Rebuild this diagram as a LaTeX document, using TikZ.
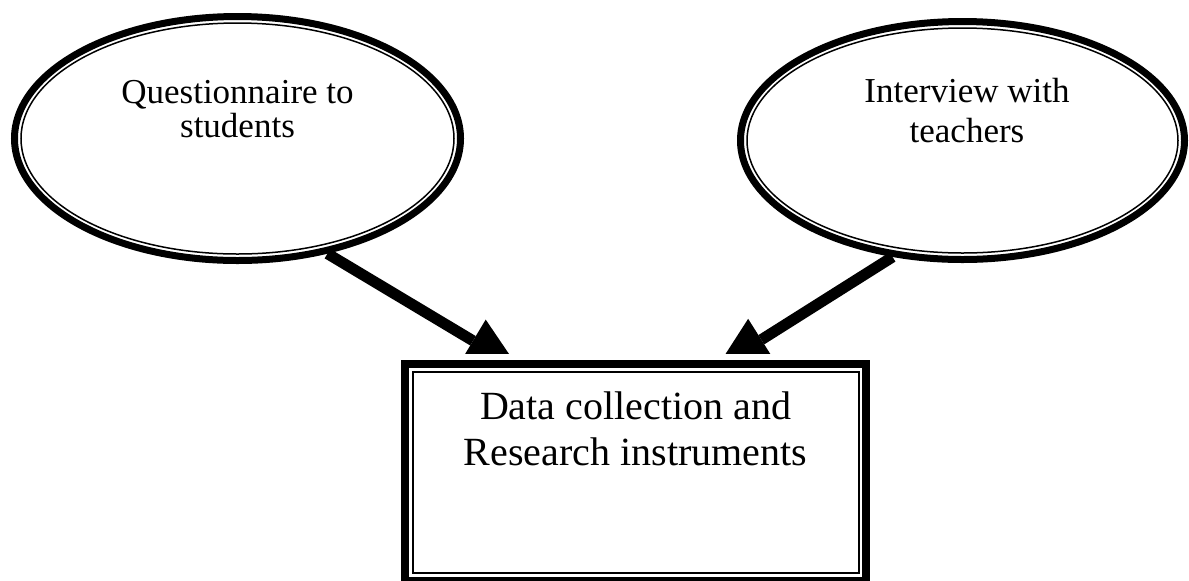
\documentclass[tikz,border=0pt]{standalone}
\usepackage{fontspec}
\setmainfont{Liberation Serif}
\usetikzlibrary{shapes.geometric, arrows.meta}
\tikzset{
    oval-outer/.style = {draw, ellipse, line width=3.5pt, inner sep=0pt},
    oval-inner/.style = {draw, ellipse, line width=0.75pt, inner sep=0pt},
    oval-text/.style = {align=center, inner sep=0pt, anchor=north},
    frame-outer/.style = {draw, rectangle, line width=4pt, inner sep=0pt, minimum width=230.5pt, minimum height=108.5pt},
    frame-inner/.style = {draw, rectangle, line width=1pt, inner sep=0pt, minimum width=223pt, minimum height=100.5pt},
    fat-arrow/.style = {line width=5.5pt, -{Triangle[length=26.5pt, width=24.7pt, line width=0pt]}},
}

\begin{document}
\begin{tikzpicture}[x=0.5pt, y=-0.5pt]
\useasboundingbox (0,0) rectangle (1189,580);
\node[oval-outer, minimum width=223pt, minimum height=122pt] (quest) at (237.5,138.5) {};
\node[oval-inner, minimum width=216.5pt, minimum height=115.5pt] (quest-in) at (quest) {};
\node[oval-text, font=\fontsize{17.5}{17}\selectfont] (quest-txt) at (237.5,80) {Questionnaire to\\students};

\node[oval-outer, minimum width=222pt, minimum height=119pt] (intv) at (962.5,140.5) {};
\node[oval-inner, minimum width=215.5pt, minimum height=112.5pt] (intv-in) at (intv) {};
\node[oval-text, font=\fontsize{17.5}{20}\selectfont] (intv-txt) at (967,78) {Interview with\\teachers};

\node[frame-outer] (data) at (635.5,472.5) {};
\node[frame-inner] (data-in) at (data) {};
\node[oval-text, font=\fontsize{20}{23}\selectfont] (data-txt) at (635.5,391) {Data collection and\\Research instruments};

\coordinate (quest-tip) at (518.5,368);
\coordinate (intv-tip) at (716.5,368);
\begin{scope}
\clip (0,0) rectangle (1189,353);
\draw[fat-arrow] (quest.-52) -- (quest-tip);
\draw[fat-arrow] (intv.-121) -- (intv-tip);
\end{scope}
\end{tikzpicture}
\end{document}
